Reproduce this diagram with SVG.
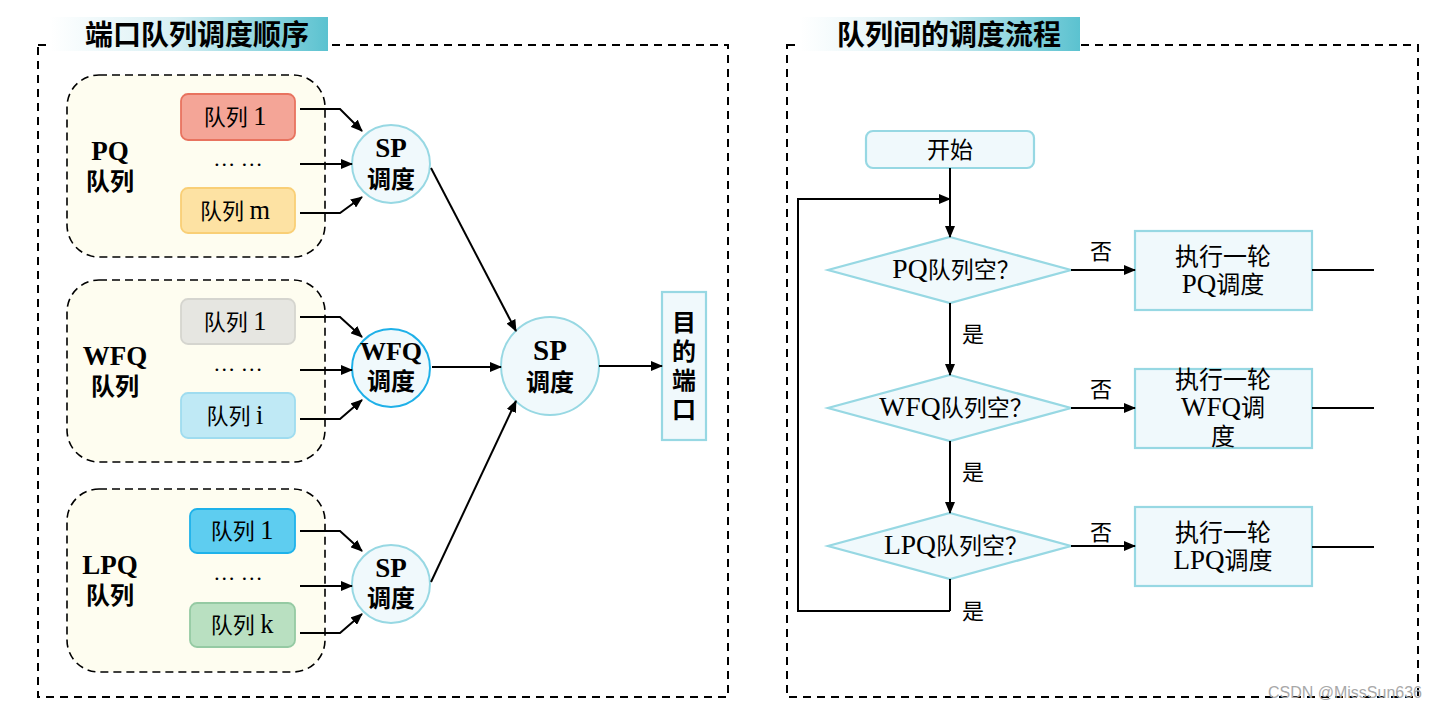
<svg xmlns="http://www.w3.org/2000/svg" width="1438" height="708" viewBox="0 0 1438 708">
<defs>
<linearGradient id="band" x1="0" y1="0" x2="1" y2="0">
<stop offset="0" stop-color="#ffffff"/>
<stop offset="0.45" stop-color="#d8f0f4"/>
<stop offset="1" stop-color="#5bc2d0"/>
</linearGradient>
<marker id="ah" markerUnits="userSpaceOnUse" markerWidth="12" markerHeight="10" refX="11" refY="5" orient="auto">
<path d="M0,0 L12,5 L0,10 z" fill="#000"/>
</marker>
<style>
text{font-family:'Liberation Serif','Noto Sans CJK SC',serif;fill:#000}
.title{font-size:28px;font-weight:bold;font-family:'Noto Sans CJK SC',sans-serif}
.outer{fill:none;stroke:#000;stroke-width:2;stroke-dasharray:8,6}
.grp{fill:#fefdf0;stroke:#000;stroke-width:1.6;stroke-dasharray:8,5}
.q{font-size:22px;text-anchor:middle}
.lbl{font-size:24px;font-weight:bold;text-anchor:middle}
.big{font-size:27px}
.cir{fill:#f0f9fc;stroke:#97d8e3;stroke-width:2}
.shape{fill:#f0f9fc;stroke:#97d8e3;stroke-width:2.2}
.ft{font-size:23px;text-anchor:middle}
.L{font-size:1.2em}
.conn path{fill:none;stroke:#000;stroke-width:2}
.arr{marker-end:url(#ah)}
</style>
</defs>
<rect width="1438" height="708" fill="#fff"/>

<g id="left-panel">
<rect class="outer" x="38" y="45" width="690" height="652"/>
<rect x="50" y="17" width="278" height="34" fill="url(#band)"/>
<text class="title" x="197" y="45" text-anchor="middle">端口队列调度顺序</text>
</g>

<g id="pq-group">
<rect class="grp" x="67" y="75" width="258" height="182" rx="32"/>
<text class="lbl big" x="110" y="160">PQ</text>
<text class="lbl" x="110" y="190">队列</text>
</g>
<g id="pq-q1"><rect x="181" y="94" width="114" height="46" rx="7" fill="#f4a597" stroke="#e8735f" stroke-width="1.8"/><text class="q" x="235" y="125">队列 <tspan class="L">1</tspan></text></g>
<g id="pq-dots"><text class="q" x="238" y="166">… …</text></g>
<g id="pq-qm"><rect x="181" y="188" width="114" height="45" rx="7" fill="#fde2a3" stroke="#f9cf76" stroke-width="1.8"/><text class="q" x="235" y="219">队列 <tspan class="L">m</tspan></text></g>
<g id="sp1"><circle class="cir" cx="391" cy="164" r="39"/><text class="lbl big" x="391" y="157">SP</text><text class="lbl" x="391" y="188">调度</text></g>

<g id="wfq-group">
<rect class="grp" x="67" y="280" width="258" height="182" rx="32"/>
<text class="lbl big" x="115" y="365">WFQ</text>
<text class="lbl" x="115" y="395">队列</text>
</g>
<g id="wfq-q1"><rect x="181" y="299" width="114" height="45" rx="7" fill="#e6e6e1" stroke="#d5d5cf" stroke-width="1.8"/><text class="q" x="235" y="330">队列 <tspan class="L">1</tspan></text></g>
<g id="wfq-dots"><text class="q" x="238" y="371">… …</text></g>
<g id="wfq-qi"><rect x="181" y="393" width="114" height="45" rx="7" fill="#bfe9f5" stroke="#9fdcef" stroke-width="1.8"/><text class="q" x="235" y="424">队列 <tspan class="L">i</tspan></text></g>
<g id="wfq"><circle cx="391" cy="368" r="39" fill="#f0f9fc" stroke="#1eb0e8" stroke-width="2"/><text class="lbl" x="391" y="360" style="font-size:26px">WFQ</text><text class="lbl" x="391" y="390">调度</text></g>

<g id="lpq-group">
<rect class="grp" x="67" y="489" width="258" height="183" rx="32"/>
<text class="lbl big" x="110" y="574">LPQ</text>
<text class="lbl" x="110" y="604">队列</text>
</g>
<g id="lpq-q1"><rect x="190" y="509" width="105" height="44" rx="7" fill="#5ecdf0" stroke="#1eb2ea" stroke-width="1.8"/><text class="q" x="242" y="539">队列 <tspan class="L">1</tspan></text></g>
<g id="lpq-dots"><text class="q" x="238" y="580">… …</text></g>
<g id="lpq-qk"><rect x="190" y="603" width="105" height="44" rx="7" fill="#b9e0c1" stroke="#95caa3" stroke-width="1.8"/><text class="q" x="242" y="633">队列 <tspan class="L">k</tspan></text></g>
<g id="sp3"><circle class="cir" cx="391" cy="584" r="39"/><text class="lbl big" x="391" y="577">SP</text><text class="lbl" x="391" y="607">调度</text></g>

<g id="sp-main"><circle class="cir" cx="550" cy="366" r="49"/><text class="lbl" x="550" y="360" style="font-size:29px">SP</text><text class="lbl" x="550" y="391">调度</text></g>
<g id="port"><rect class="shape" x="662" y="292" width="44" height="148"/>
<text class="lbl" x="684" y="331">目</text><text class="lbl" x="684" y="360">的</text><text class="lbl" x="684" y="389">端</text><text class="lbl" x="684" y="418">口</text></g>

<g id="right-panel">
<rect class="outer" x="787" y="45" width="631" height="652"/>
<rect x="800" y="17" width="280" height="34" fill="url(#band)"/>
<text class="title" x="949" y="45" text-anchor="middle">队列间的调度流程</text>
</g>

<g id="start"><rect class="shape" x="866" y="131" width="168" height="37" rx="7"/><text class="ft" x="950" y="158">开始</text></g>
<g id="d-pq"><polygon class="shape" points="950,237 1071,270 950,303 828,270"/><text class="ft" x="956" y="278"><tspan class="L">PQ</tspan>队列空？</text></g>
<g id="b-pq"><rect class="shape" x="1135" y="231" width="177" height="79"/><text class="ft" x="1223" y="265" style="font-size:24px">执行一轮</text><text class="ft" x="1223" y="293" style="font-size:24px"><tspan style="font-size:27px">PQ</tspan>调度</text></g>
<g id="d-wfq"><polygon class="shape" points="950,375 1071,408 950,441 828,408"/><text class="ft" x="956" y="416"><tspan class="L">WFQ</tspan>队列空？</text></g>
<g id="b-wfq"><rect class="shape" x="1135" y="369" width="177" height="79"/><text class="ft" x="1223" y="388" style="font-size:24px">执行一轮</text><text class="ft" x="1223" y="416" style="font-size:24px"><tspan style="font-size:27px">WFQ</tspan>调</text><text class="ft" x="1223" y="445" style="font-size:24px">度</text></g>
<g id="d-lpq"><polygon class="shape" points="950,513 1071,546 950,579 828,546"/><text class="ft" x="956" y="554"><tspan class="L">LPQ</tspan>队列空？</text></g>
<g id="b-lpq"><rect class="shape" x="1135" y="507" width="177" height="79"/><text class="ft" x="1223" y="541" style="font-size:24px">执行一轮</text><text class="ft" x="1223" y="569" style="font-size:24px"><tspan style="font-size:27px">LPQ</tspan>调度</text></g>

<g id="connectors" class="conn">
<path class="arr" d="M300,109 H340 L362,131"/>
<path class="arr" d="M300,164 H352"/>
<path class="arr" d="M300,213 H340 L362,197"/>
<path class="arr" d="M300,317 H340 L362,337"/>
<path class="arr" d="M300,370 H352"/>
<path class="arr" d="M300,419 H340 L362,400"/>
<path class="arr" d="M300,531 H340 L362,551"/>
<path class="arr" d="M300,586 H352"/>
<path class="arr" d="M300,633 H340 L362,614"/>
<path class="arr" d="M431,168 L516,331"/>
<path class="arr" d="M431,582 L516,401"/>
<path class="arr" d="M432,367 H501"/>
<path class="arr" d="M599,366 H662"/>
<path class="arr" d="M950,168 V237"/>
<path class="arr" d="M950,611 V579 M950,611 H798 V199 H950"/>
<path class="arr" d="M950,303 V375"/>
<path class="arr" d="M950,441 V513"/>
<path class="arr" d="M1071,270 H1135"/>
<path class="arr" d="M1071,408 H1135"/>
<path class="arr" d="M1071,546 H1135"/>
<path d="M1312,270 H1374"/>
<path d="M1312,408 H1374"/>
<path d="M1312,547 H1374"/>
</g>
<g id="edge-labels">
<text class="ft" x="1101" y="259" style="font-size:22px">否</text>
<text class="ft" x="1101" y="397" style="font-size:22px">否</text>
<text class="ft" x="1101" y="540" style="font-size:22px">否</text>
<text class="ft" x="973" y="342" style="font-size:22px">是</text>
<text class="ft" x="973" y="480" style="font-size:22px">是</text>
<text class="ft" x="973" y="619" style="font-size:22px">是</text>
</g>
<text x="1422" y="698" text-anchor="end" style="font-family:'Liberation Sans',sans-serif;font-size:16px;fill:#a8a8a8">CSDN @MissSun636</text>
</svg>
